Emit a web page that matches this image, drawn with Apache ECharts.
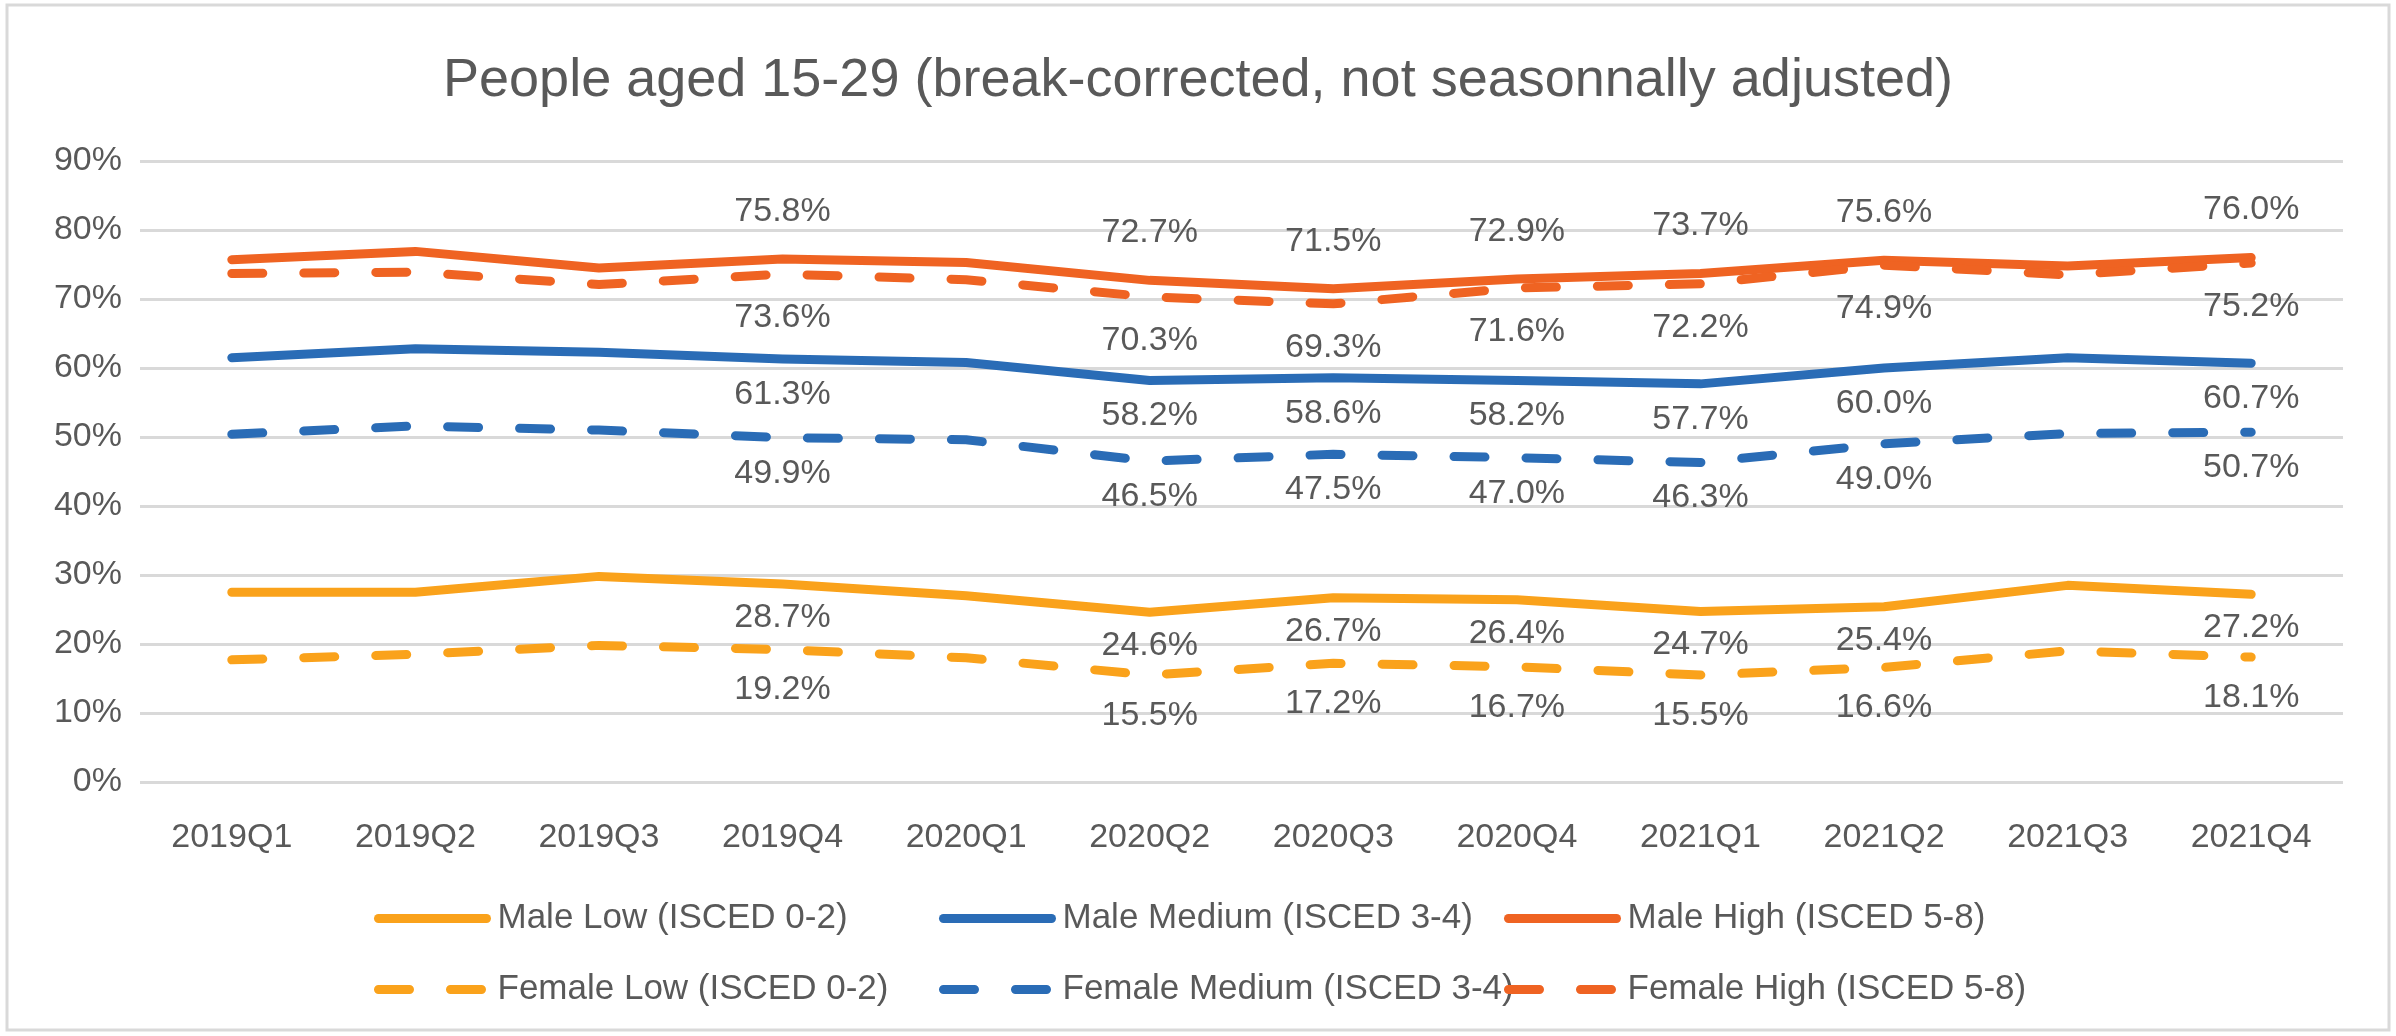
<!DOCTYPE html>
<html>
<head>
<meta charset="utf-8">
<title>People aged 15-29</title>
<script src="https://cdn.jsdelivr.net/npm/echarts@6/dist/echarts.min.js"></script>
<style>
  html, body { margin: 0; padding: 0; background: #fff; }
  #chart { width: 2396px; height: 1036px; }
</style>
</head>
<body>
<div id="chart"></div>
<script>
// quarters on the x axis
const quarters = ['2019Q1', '2019Q2', '2019Q3', '2019Q4', '2020Q1', '2020Q2',
  '2020Q3', '2020Q4', '2021Q1', '2021Q2', '2021Q3', '2021Q4'];

// percentages (unlabelled points estimated)
const maleLow = [27.5, 27.5, 29.8, 28.7, 27.0, 24.6, 26.7, 26.4, 24.7, 25.4, 28.5, 27.2];
const femaleLow = [17.7, 18.5, 19.8, 19.2, 18.0, 15.5, 17.2, 16.7, 15.5, 16.6, 19.0, 18.1];
const maleMedium = [61.5, 62.8, 62.3, 61.3, 60.8, 58.2, 58.6, 58.2, 57.7, 60.0, 61.5, 60.7];
const femaleMedium = [50.4, 51.6, 51.0, 49.9, 49.6, 46.5, 47.5, 47.0, 46.3, 49.0, 50.5, 50.7];
const maleHigh = [75.7, 76.9, 74.5, 75.8, 75.3, 72.7, 71.5, 72.9, 73.7, 75.6, 74.8, 76.0];
const femaleHigh = [73.7, 73.9, 72.1, 73.6, 72.8, 70.3, 69.3, 71.6, 72.2, 74.9, 73.5, 75.2];

// which quarters carry a value label
const labelled = [3, 5, 6, 7, 8, 9, 11];

const yTicks = [0, 10, 20, 30, 40, 50, 60, 70, 80, 90];

const textGrey = '#595959';
const font = 'Liberation Sans, Arial, sans-serif';
const yellow = '#FAA21B';
const blue = '#2A6CB6';
const red = '#EF6322';

function makeSeries(name, values, color, dashed, labelPos, labelDist) {
  return {
    name: name,
    type: 'line',
    // an invisible symbol, only so the labels get drawn
    symbol: 'circle',
    symbolSize: 1,
    showSymbol: true,
    data: values.map((v, i) => ({
      value: v,
      label: {show: labelled.indexOf(i) >= 0}
    })),
    lineStyle: {
      color: color,
      width: 9,
      type: dashed ? [31, 41] : 'solid',
      cap: 'round',
      join: 'round'
    },
    itemStyle: {color: color, opacity: 0},
    label: {
      position: labelPos,
      distance: labelDist,
      fontFamily: font,
      fontSize: 34,
      color: textGrey,
      opacity: 1,
      formatter: p => p.value.toFixed(1) + '%'
    },
    emphasis: {disabled: true},
    animation: false
  };
}

// one legend box per entry, laid out as Excel's 3x2 grid
function legendAt(name, col, row) {
  return {
    data: [name],
    left: 369 + col * 565,
    top: row === 0 ? 896 : 967,
    itemWidth: 108,
    itemHeight: 40,
    itemStyle: {opacity: 0},
    lineStyle: {width: 9, cap: 'round'},
    textStyle: {
      fontFamily: font,
      fontSize: 35,
      color: textGrey,
      padding: [0, 0, 0, 6]
    },
    selectedMode: false
  };
}

const chart = echarts.init(document.getElementById('chart'));
chart.setOption({
  backgroundColor: '#fff',
  animation: false,
  title: {
    text: 'People aged 15-29 (break-corrected, not seasonnally adjusted)',
    left: 'center',
    top: 49,
    textStyle: {fontFamily: font, fontSize: 54, fontWeight: 'normal', color: textGrey}
  },
  graphic: [{
    type: 'rect',
    shape: {x: 7, y: 5, width: 2382, height: 1025},
    style: {fill: 'none', stroke: '#d9d9d9', lineWidth: 3},
    silent: true
  }],
  legend: [
    legendAt('Male Low (ISCED 0-2)', 0, 0),
    legendAt('Male Medium (ISCED 3-4)', 1, 0),
    legendAt('Male High (ISCED 5-8)', 2, 0),
    legendAt('Female Low (ISCED 0-2)', 0, 1),
    legendAt('Female Medium (ISCED 3-4)', 1, 1),
    legendAt('Female High (ISCED 5-8)', 2, 1)
  ],
  grid: {left: 140, right: 53, top: 161, bottom: 254, containLabel: false, outerBoundsMode: 'none'},
  xAxis: {
    type: 'category',
    data: quarters,
    boundaryGap: true,
    axisLine: {show: false},
    axisTick: {show: false},
    axisLabel: {fontFamily: font, fontSize: 34, color: textGrey, margin: 39}
  },
  yAxis: {
    type: 'value',
    min: yTicks[0],
    max: yTicks[yTicks.length - 1],
    interval: 10,
    axisLine: {show: false},
    axisTick: {show: false},
    splitLine: {lineStyle: {color: '#d9d9d9', width: 3}},
    axisLabel: {fontFamily: font, fontSize: 34, color: textGrey, margin: 18, formatter: '{value}%'}
  },
  series: [
    makeSeries('Male Low (ISCED 0-2)', maleLow, yellow, false, 'bottom', 16),
    makeSeries('Male Medium (ISCED 3-4)', maleMedium, blue, false, 'bottom', 18),
    makeSeries('Male High (ISCED 5-8)', maleHigh, red, false, 'top', 30),
    makeSeries('Female Low (ISCED 0-2)', femaleLow, yellow, true, 'bottom', 23),
    makeSeries('Female Medium (ISCED 3-4)', femaleMedium, blue, true, 'bottom', 18),
    makeSeries('Female High (ISCED 5-8)', femaleHigh, red, true, 'bottom', 26)
  ]
});
</script>
</body>
</html>
